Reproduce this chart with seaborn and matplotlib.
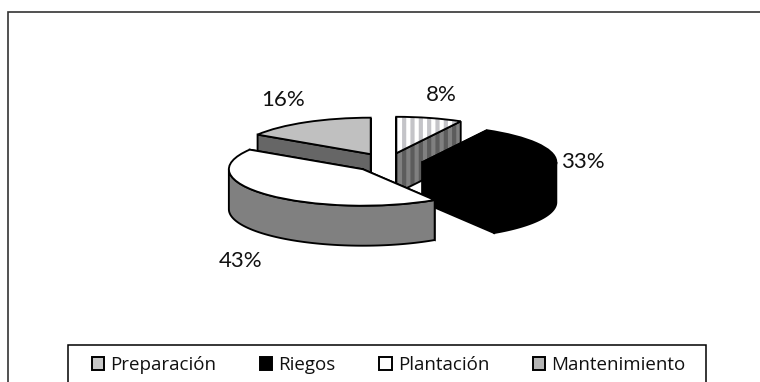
import numpy as np
import matplotlib
matplotlib.use("Agg")
import matplotlib.pyplot as plt
from matplotlib.patches import Patch, Polygon, Rectangle, Wedge
import seaborn as sns

# Share of each task, in percent
categories = ["Preparación", "Riegos", "Plantación", "Mantenimiento"]
shares = [8, 33, 43, 16]
explode_all = 0.26

# Slice styling
top_colors = ["#ffffff", "#000000", "#ffffff", "#c0c0c0"]
wall_colors = ["#808080", "#000000", "#808080", "#666666"]
stripe_top = "#c4c4c8"
stripe_wall = "#5c5c5c"
handle_colors = ["#c8c8c8", "#000000", "#ffffff", "#b4b4b4"]
label_xy = [(441, 95), (583, 162), (241, 261), (283, 100)]

W, H = 760, 382
CX, CY = 387.5, 162.5  # pie centre, pixels
RX, RY = 134, 36.5     # ellipse radii, pixels
DEPTH = 40 / RY        # wall height in squashed units
SPAN = 2.5
LW = 1.35

sns.set_theme(style="white")
plt.rcParams["font.family"] = ["Lato", "DejaVu Sans"]
plt.rcParams["hatch.linewidth"] = 3.0

fig = plt.figure(figsize=(W / 100, H / 100), dpi=100, facecolor="white")

# Pixel-space layer for the chart frame, legend box and labels
bg = fig.add_axes([0, 0, 1, 1], zorder=0)
bg.set_xlim(0, W)
bg.set_ylim(H, 0)
bg.axis("off")
bg.add_patch(Rectangle((7.5, 12), W, H, fc="white", ec="#333333", lw=1.2))
bg.add_patch(Rectangle((67.5, 345), 638.5, 60, fc="white", ec="black", lw=1.1))

# Squashed axes: one data unit is RX pixels wide and RY pixels tall
ax = fig.add_axes([(CX - SPAN * RX) / W, 1 - (CY + SPAN * RY) / H,
                   2 * SPAN * RX / W, 2 * SPAN * RY / H], zorder=1)
wedges, _ = ax.pie(shares, startangle=90, counterclock=False, radius=1,
                   explode=[explode_all] * len(shares),
                   colors=sns.color_palette(top_colors),
                   wedgeprops=dict(edgecolor="black", linewidth=LW))
ax.set_aspect("auto")
ax.set_xlim(-SPAN, SPAN)
ax.set_ylim(-SPAN, SPAN)
ax.axis("off")


def point(center, angle):
    a = np.radians(angle)
    return center[0] + np.cos(a), center[1] + np.sin(a)


def wall_patches(w):
    """Side faces of an extruded wedge, back faces first."""
    c = np.array(w.center)
    polys = []
    for ang in (w.theta1, w.theta2):
        e = np.array(point(c, ang))
        polys.append([c, e, e - (0, DEPTH), c - (0, DEPTH)])
    t1, t2 = w.theta1 % 360, w.theta2 % 360
    if t2 <= t1:
        t2 += 360
    arcs = []
    for lo, hi in ((180, 360), (540, 720)):
        a, b = max(t1, lo), min(t2, hi)
        if b > a:
            arcs.append((a, b))
    for a, b in arcs:
        th = np.linspace(a, b, 80)
        upper = np.array([point(c, t) for t in th])
        polys.append(np.vstack([upper, upper[::-1] - (0, DEPTH)]))
    return polys


# Paint back to front so nearer slices hide the ones behind
for order, i in enumerate([3, 0, 1, 2]):
    w = wedges[i]
    base = 2 + order * 3
    striped = categories[i] == "Preparación"
    for poly in wall_patches(w):
        ax.add_patch(Polygon(poly, closed=True, fc=wall_colors[i], ec="none", zorder=base))
        if striped:
            ax.add_patch(Polygon(poly, closed=True, fc="none", ec=stripe_wall,
                                 hatch="||", lw=0, zorder=base))
        ax.add_patch(Polygon(poly, closed=True, fc="none", ec="black", lw=LW, zorder=base))
    if striped:
        ax.add_patch(Wedge(w.center, w.r, w.theta1, w.theta2, fc="white",
                           ec=stripe_top, hatch="||", lw=0, zorder=base + 1))
        w.set_facecolor("none")
    w.set_zorder(base + 2)

# Percentage labels
for value, (x, y) in zip(shares, label_xy):
    bg.text(x, y, f"{value}%", ha="center", va="center", fontsize=16,
            color="#111111", zorder=30)

# Legend sits on the boxed strip along the bottom
handles = [Patch(fc=c, ec="black", lw=1.4) for c in handle_colors]
fig.legend(handles, categories, ncol=4, frameon=False, loc="upper left",
           bbox_to_anchor=(92 / W, 1 - 356 / H), borderpad=0, borderaxespad=0,
           handlelength=0.65, handleheight=0.65, handletextpad=0.33,
           columnspacing=2.33, labelspacing=0,
           prop=dict(family="Open Sans", size=13.5), labelcolor="#111111")

fig.savefig("out.png", dpi=100, facecolor="white")
